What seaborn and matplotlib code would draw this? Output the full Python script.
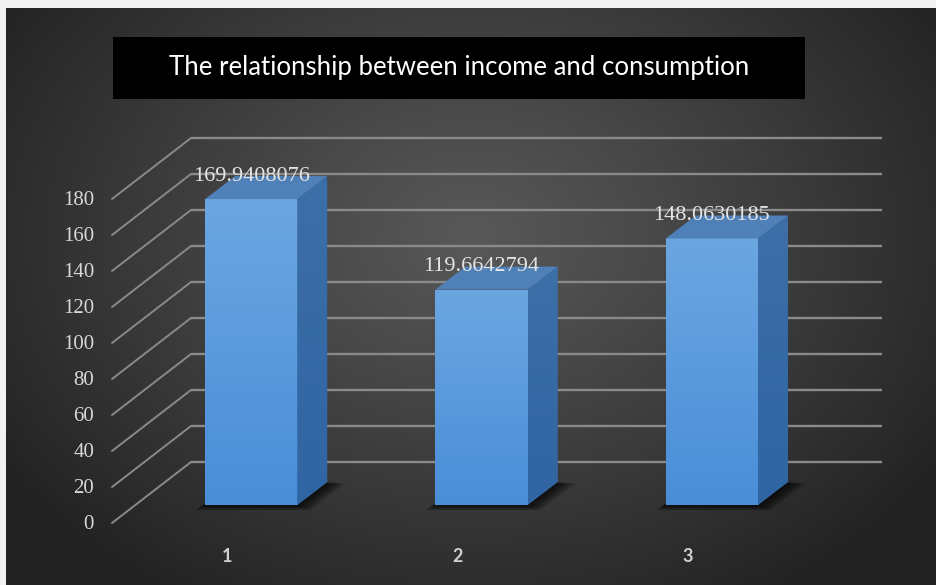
import numpy as np
import pandas as pd
import matplotlib
matplotlib.use("Agg")
import matplotlib.pyplot as plt
import seaborn as sns
from matplotlib.patches import Polygon, Rectangle
from matplotlib.colors import LinearSegmentedColormap

# ---- data ----
categories = ["1", "2", "3"]
values = [169.9408076, 119.6642794, 148.0630185]
value_labels = ["169.9408076", "119.6642794", "148.0630185"]
y_ticks = [0, 20, 40, 60, 80, 100, 120, 140, 160, 180]
title_text = "The relationship between income and consumption"

W, H, DPI = 937, 585, 100
sns.set_theme(style="white")
plt.rcParams["font.family"] = ["Liberation Serif", "DejaVu Serif"]

fig = plt.figure(figsize=(W / DPI, H / DPI), dpi=DPI)
fig.patch.set_facecolor("#f2f2f2")

# ---- dark panel with radial shading ----
bg = fig.add_axes([6 / W, 0, 1 - 6 / W, (H - 8) / H])
bg.set_axis_off()
ny, nx = 290, 466
yy, xx = np.mgrid[0:ny, 0:nx]
xs = 6 + xx * (W - 6) / nx
ys = 8 + yy * (H - 8) / ny
r = np.sqrt(((xs - 470) / 560) ** 2 + ((ys - 235) / 420) ** 2)
shade = (0x58 - (0x58 - 0x23) * np.clip(r, 0, 1) ** 1.1) / 255
bg.imshow(np.dstack([shade] * 3), extent=[0, 1, 0, 1], aspect="auto", origin="upper")
bg.set_xlim(0, 1)
bg.set_ylim(0, 1)

# ---- bar plane axes ----
ax = fig.add_axes([136 / W, (H - 505) / H, 691 / W, 324 / H])
ax.patch.set_alpha(0)

XMIN, XMAX, YMIN, YMAX = -0.5, 2.5, 0, 180
px_x = 691 / (XMAX - XMIN)          # pixels per category unit
px_y = 324 / (YMAX - YMIN)          # pixels per value unit

def shift(dx_px, dy_px):
    return dx_px / px_x, dy_px / px_y

BAR_D = shift(30, 23)      # bar depth
BACK = shift(55, 43)       # back wall plane
FRONT = shift(-24, -18)    # front floor edge

df = pd.DataFrame({"group": categories, "value": values})
sns.barplot(data=df, x="group", y="value", width=0.4, color="#5596dc",
            saturation=1, edgecolor="none", linewidth=0, ax=ax, zorder=3)

bars = list(ax.patches)
front_cmap = LinearSegmentedColormap.from_list("front", ["#4a8ed8", "#6ba6e1"])
side_cmap = LinearSegmentedColormap.from_list("side", ["#3065a3", "#3d6fa8"])
grad = np.linspace(0, 1, 256)[:, None]

for bar in bars:
    x0 = bar.get_x()
    w = bar.get_width()
    h = bar.get_height()
    x1 = x0 + w
    dx, dy = BAR_D

    # soft floor shadow, built up from faint layers
    for k in range(1, 13):
        ex, ey = shift(k * 1.1, k * 0.45)
        shadow = Polygon([(x0 - ex * 0.8, -ey), (x1 + ex, -ey),
                          (x1 + dx + ex * 1.4, dy - ey * 0.3),
                          (x0 + dx, dy - ey * 0.3)],
                         closed=True, facecolor="black", alpha=0.085,
                         edgecolor="none", zorder=2.5, clip_on=False)
        ax.add_patch(shadow)

    im = ax.imshow(grad, cmap=front_cmap, extent=[x0, x1, 0, h],
                   origin="lower", aspect="auto", zorder=3.1)
    im.set_clip_path(bar)

    side = Polygon([(x1, 0), (x1 + dx, dy), (x1 + dx, h + dy), (x1, h)],
                   closed=True, facecolor="#3669a4", edgecolor="none",
                   zorder=3, clip_on=False)
    ax.add_patch(side)
    im2 = ax.imshow(grad, cmap=side_cmap, extent=[x1, x1 + dx, 0, h + dy],
                    origin="lower", aspect="auto", zorder=3.1)
    im2.set_clip_path(side)

    top = Polygon([(x0, h), (x1, h), (x1 + dx, h + dy), (x0 + dx, h + dy)],
                  closed=True, facecolor="#5080b8", edgecolor="none",
                  zorder=3.2, clip_on=False)
    ax.add_patch(top)

# back wall gridlines and their slanted floor edges
grid_col = "#8a8a8a"
bx, by = BACK
fx, fy = FRONT
for t in y_ticks:
    ax.plot([XMIN + bx, XMAX + bx], [t + by, t + by], color=grid_col,
            lw=1.7, zorder=1, clip_on=False, solid_capstyle="butt")
    ax.plot([XMIN + fx, XMIN + bx], [t + fy, t + by], color=grid_col,
            lw=1.4, zorder=1, clip_on=False)
    ax.text(XMIN + fx - 18 / px_x, t + fy - 1.5 / px_y, f"{t}",
            ha="right", va="center", color="#d8d8d8", fontsize=15,
            family=["Liberation Serif"], clip_on=False)

# value labels above bars
for i, (v, lab) in enumerate(zip(values, value_labels)):
    ax.text(i, v + BAR_D[1], lab, ha="center", va="center",
            color="#e4e4e4", fontsize=16, family=["Liberation Serif"],
            zorder=5, clip_on=False)

# category labels on the front edge
for i, c in enumerate(categories):
    ax.text(i + fx, fy - 33 / px_y, c, ha="center", va="center",
            color="#d0d0d0", fontsize=13, fontweight="bold",
            family=["Lato", "DejaVu Sans"], clip_on=False)

ax.set_xlim(XMIN, XMAX)
ax.set_ylim(YMIN, YMAX)
ax.set_axis_off()

# ---- title banner ----
fig.add_artist(Rectangle((113 / W, (H - 99) / H), 692 / W, 62 / H,
                         transform=fig.transFigure, facecolor="black",
                         edgecolor="none", zorder=10))
fig.text(459 / W, (H - 67) / H, title_text, ha="center", va="center",
         color="white", fontsize=18.5, family=["Lato", "DejaVu Sans"],
         zorder=11)

fig.savefig("out.png", dpi=DPI)
